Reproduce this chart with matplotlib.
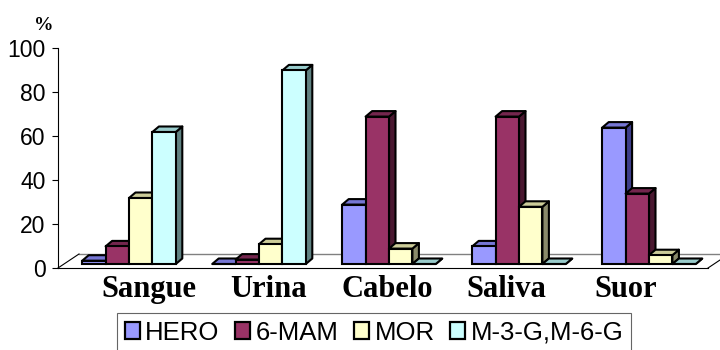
import matplotlib.pyplot as plt
from matplotlib.patches import Polygon, Patch

# amostras e percentagens de cada composto
amostras = ['Sangue', 'Urina', 'Cabelo', 'Saliva', 'Suor']
series = ['HERO', '6-MAM', 'MOR', 'M-3-G,M-6-G']
hero = [1.5, 0, 27, 8, 62]
mam6 = [8, 2, 67, 67, 32]
mor = [30, 9, 7, 26, 4]
m3g = [60, 88, 0, 0, 0]
valores = [hero, mam6, mor, m3g]

frente = ['#9999FF', '#993366', '#FFFFCC', '#CCFFFF']
topo = ['#7676D4', '#74264E', '#CCCC99', '#99CCCC']
lado = ['#3E3E8A', '#4A1830', '#8A8A6A', '#5F8282']

W, H = 720, 350
fig = plt.figure(figsize=(7.2, 3.5), dpi=100)
ax = fig.add_axes([58 / W, 82 / H, 650 / W, 220 / H])
ax.set_xlim(-0.5, 4.5)
ax.set_ylim(0, 100)

# conversao de pixels para unidades dos eixos
px = 5.0 / 650
py = 100.0 / 220

# chao em perspectiva
fdx, fdy = 21 * px, 14 * py
chao = Polygon([(-0.5, 0), (4.5, 0), (4.5 + fdx, fdy), (-0.5 + fdx, fdy)],
               closed=True, facecolor='white', edgecolor='none', clip_on=False, zorder=0)
ax.add_patch(chao)
ax.plot([-0.5 + fdx, 4.5 + fdx], [fdy, fdy], color='#808080', lw=1, clip_on=False, zorder=1)
ax.plot([-0.5, -0.5 + fdx], [0, fdy], color='black', lw=0.8, clip_on=False, zorder=1)
ax.plot([4.5, 4.5 + fdx], [0, fdy], color='black', lw=0.8, clip_on=False, zorder=1)
ax.plot([-0.5, 4.5], [0, 0], color='black', lw=0.8, clip_on=False, zorder=1)

# barras 3D: face frontal, topo e lateral
w = 0.18
bx, by = 6 * px, 4 * py
ddx, ddy = 6.5 * px, 5.5 * py
z = 2
for i in range(len(amostras)):
    for j, vals in enumerate(valores):
        v = vals[i]
        x0 = i - 2 * w + j * w + bx
        x1 = x0 + w
        top = by + v
        ax.add_patch(Polygon([(x1, by), (x1 + ddx, by + ddy), (x1 + ddx, top + ddy), (x1, top)],
                             closed=True, facecolor=lado[j], edgecolor='black', lw=1.5,
                             joinstyle='round', clip_on=False, zorder=z))
        ax.add_patch(Polygon([(x0, top), (x1, top), (x1 + ddx, top + ddy), (x0 + ddx, top + ddy)],
                             closed=True, facecolor=topo[j], edgecolor='black', lw=1.5,
                             joinstyle='round', clip_on=False, zorder=z))
        ax.bar(x0, v, width=w, bottom=by, align='edge', color=frente[j],
               edgecolor='black', lw=1.5, clip_on=False, zorder=z + 0.5)
        z += 1

for s in ['top', 'right', 'bottom']:
    ax.spines[s].set_visible(False)
ax.spines['left'].set_linewidth(0.8)
ax.set_yticks(range(0, 101, 20))
ax.tick_params(axis='y', length=4, width=0.8, pad=5, labelsize=16.5)
for t in ax.get_yticklabels():
    t.set_fontfamily('Liberation Sans')

# rotulos das amostras
pos = [0.2 + 0.917 * i for i in range(len(amostras))]
ax.set_xticks(pos)
ax.set_xticklabels(amostras, fontfamily='Liberation Serif', fontweight='bold', fontsize=22)
ax.tick_params(axis='x', length=0, pad=5)

fig.text(44 / W, 1 - 25 / H, '%', fontfamily='Liberation Serif', fontweight='bold',
         fontsize=14, ha='center', va='center')

handles = [Patch(facecolor=frente[j], edgecolor='black', lw=1.6) for j in range(4)]
leg = fig.legend(handles, series, loc='upper left', bbox_to_anchor=(117 / W, 1 - 313 / H),
                 ncols=4, frameon=True, fancybox=False, borderaxespad=0,
                 prop={'family': 'Liberation Sans', 'size': 18.5},
                 handlelength=0.6, handleheight=0.6, handletextpad=0.2,
                 columnspacing=0.6, borderpad=0.3)
leg.get_frame().set_edgecolor('#404040')
leg.get_frame().set_linewidth(0.8)

fig.savefig('out.png', dpi=100)
